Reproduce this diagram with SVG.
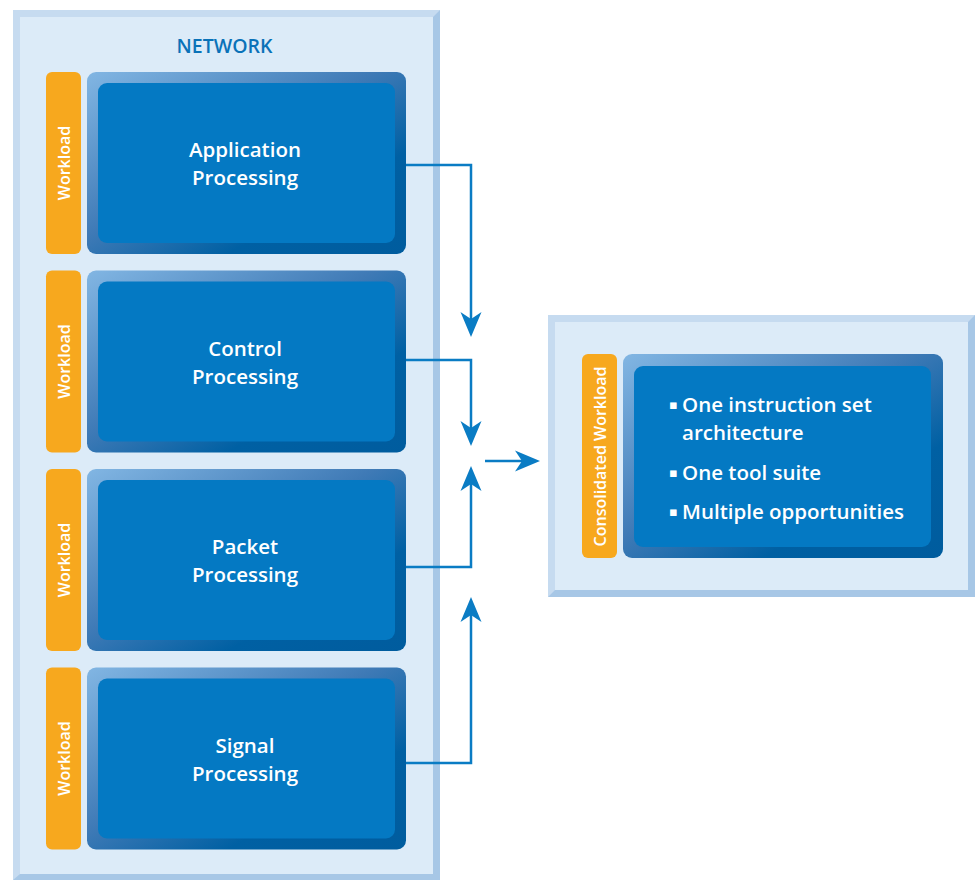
<svg xmlns="http://www.w3.org/2000/svg" width="975" height="880" viewBox="0 0 975 880">
<defs>
<linearGradient id="bev" x1="0" y1="0" x2="1" y2="1">
<stop offset="0" stop-color="#82b6e3"/>
<stop offset="0.45" stop-color="#3f7ab6"/>
<stop offset="0.72" stop-color="#0060a3"/>
<stop offset="1" stop-color="#005c9e"/>
</linearGradient>
<marker id="ah" markerUnits="userSpaceOnUse" orient="auto" refX="0" refY="0" markerWidth="30" markerHeight="30" overflow="visible">
<path d="M5,0 L-20,-10.5 L-13,0 L-20,10.5 Z" fill="#0a7cc4"/>
</marker>
</defs>
<style>
.frameDark{fill:#a7c7e6}
.frameLight{fill:#c6dbf0}
.frameFill{fill:#dcebf8}
.wl{fill:#f7a81e}
.outer{fill:url(#bev)}
.inner{fill:#0479c3}
.t{font-family:"Open Sans","Liberation Sans",sans-serif;font-weight:600;fill:#ffffff}
.node{font-size:20.5px;text-anchor:middle}
.side{font-size:16px;text-anchor:middle}
.title{font-family:"Open Sans","Liberation Sans",sans-serif;font-weight:600;font-size:19.5px;fill:#0a72b8;text-anchor:middle}
.bul{font-family:"DejaVu Sans",sans-serif;font-size:13px;fill:#ffffff}
.conn{fill:none;stroke:#0a7cc4;stroke-width:2.5}
</style>
<rect width="975" height="880" fill="#ffffff"/>

<g id="network">
<rect class="frameDark" x="13" y="10" width="427" height="870"/>
<polygon class="frameLight" points="13,10 440,10 433,17 20,17 20,874 13,880"/>
<rect class="frameFill" x="20" y="17" width="413" height="857"/>
<text class="title" x="224.5" y="52.5">NETWORK</text>
</g>

<g id="node-application">
<rect class="wl" x="46" y="72" width="35" height="182" rx="6"/>
<text class="t side" transform="translate(69.5,163) rotate(-90)">Workload</text>
<rect class="outer" x="87" y="72" width="319" height="182" rx="9"/>
<rect class="inner" x="98" y="83" width="297" height="160" rx="9"/>
<text class="t node" x="245" y="157">Application</text>
<text class="t node" x="245" y="185">Processing</text>
</g>

<g id="node-control">
<rect class="wl" x="46" y="270.5" width="35" height="182" rx="6"/>
<text class="t side" transform="translate(69.5,361.5) rotate(-90)">Workload</text>
<rect class="outer" x="87" y="270.5" width="319" height="182" rx="9"/>
<rect class="inner" x="98" y="281.5" width="297" height="160" rx="9"/>
<text class="t node" x="245" y="355.5">Control</text>
<text class="t node" x="245" y="383.5">Processing</text>
</g>

<g id="node-packet">
<rect class="wl" x="46" y="469" width="35" height="182" rx="6"/>
<text class="t side" transform="translate(69.5,560) rotate(-90)">Workload</text>
<rect class="outer" x="87" y="469" width="319" height="182" rx="9"/>
<rect class="inner" x="98" y="480" width="297" height="160" rx="9"/>
<text class="t node" x="245" y="554">Packet</text>
<text class="t node" x="245" y="582">Processing</text>
</g>

<g id="node-signal">
<rect class="wl" x="46" y="667.5" width="35" height="182" rx="6"/>
<text class="t side" transform="translate(69.5,758.5) rotate(-90)">Workload</text>
<rect class="outer" x="87" y="667.5" width="319" height="182" rx="9"/>
<rect class="inner" x="98" y="678.5" width="297" height="160" rx="9"/>
<text class="t node" x="245" y="752.5">Signal</text>
<text class="t node" x="245" y="780.5">Processing</text>
</g>

<g id="node-consolidated">
<rect class="frameDark" x="548" y="315" width="427" height="282"/>
<polygon class="frameLight" points="548,315 975,315 968,322 555,322 555,590 548,597"/>
<rect class="frameFill" x="555" y="322" width="413" height="268"/>
<rect class="wl" x="582" y="354" width="35" height="204" rx="6"/>
<text class="t side" transform="translate(606,456.5) rotate(-90)">Consolidated Workload</text>
<rect class="outer" x="623" y="354" width="320" height="204" rx="9"/>
<rect class="inner" x="634" y="366" width="297" height="181" rx="9"/>
<text class="bul" x="669" y="409">▪</text>
<text class="t" font-size="20.5" x="682" y="412">One instruction set</text>
<text class="t" font-size="20.5" x="682" y="440">architecture</text>
<text class="bul" x="669" y="477">▪</text>
<text class="t" font-size="20.5" x="682" y="480">One tool suite</text>
<text class="bul" x="669" y="516">▪</text>
<text class="t" font-size="20.5" x="682" y="519">Multiple opportunities</text>
</g>

<g id="connectors">
<path class="conn" d="M406,165 H471 V332" marker-end="url(#ah)"/>
<path class="conn" d="M406,360 H471 V441" marker-end="url(#ah)"/>
<path class="conn" d="M406,567 H471 V471" marker-end="url(#ah)"/>
<path class="conn" d="M406,763 H471 V602" marker-end="url(#ah)"/>
<path class="conn" d="M485,461 H535" marker-end="url(#ah)"/>
</g>
</svg>
